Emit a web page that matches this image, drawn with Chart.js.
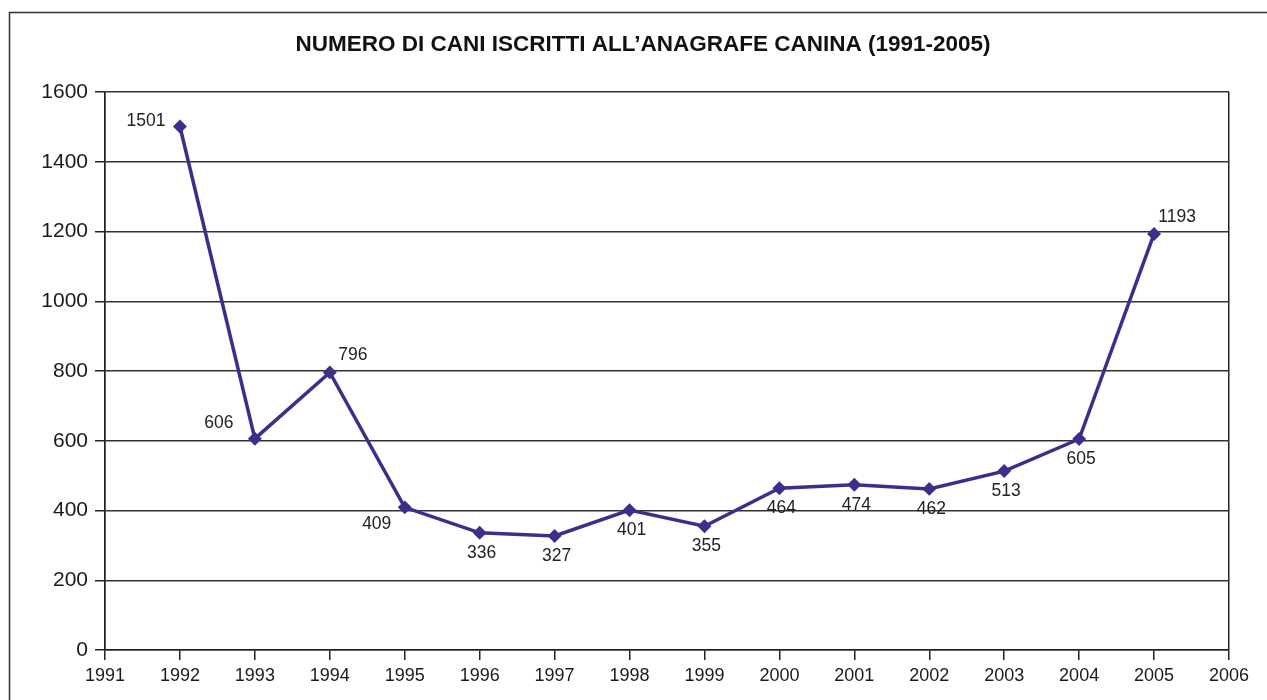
<!DOCTYPE html>
<html>
<head>
<meta charset="utf-8">
<title>Anagrafe canina</title>
<script src="https://cdn.jsdelivr.net/npm/chart.js@4/dist/chart.umd.min.js"></script>
<style>
  html, body { margin: 0; padding: 0; background: #fff; }
  #wrap { width: 1267px; height: 700px; }
</style>
</head>
<body>
<div id="wrap"><canvas id="cani"></canvas></div>
<script>
const titolo = 'NUMERO DI CANI ISCRITTI ALL’ANAGRAFE CANINA (1991-2005)';
const anni = [1992, 1993, 1994, 1995, 1996, 1997, 1998, 1999, 2000, 2001, 2002, 2003, 2004, 2005];
const iscritti = [1501, 606, 796, 409, 336, 327, 401, 355, 464, 474, 462, 513, 605, 1193];
// where each value label sits around its point
const posEtichette = ['left', 'upleft', 'upright', 'downleft', 'below', 'below', 'below',
  'below', 'below', 'below', 'below', 'below', 'below', 'upright'];

const scostamenti = {
  left: [-34, -5],
  upleft: [-36, -15],
  upright: [23, -17],
  downleft: [-28, 17],
  below: [2, 20]
};

// outer frame and the title, centred on the page
const cornice = {
  id: 'cornice',
  beforeDraw(chart) {
    const c = chart.ctx;
    c.save();
    c.fillStyle = '#fff';
    c.fillRect(0, 0, chart.width, chart.height);
    c.strokeStyle = '#333';
    c.lineWidth = 1.5;
    c.strokeRect(9.5, 12.5, chart.width + 20, chart.height + 20);
    c.font = 'bold 22.5px "Liberation Sans Narrow", "Liberation Sans", Arial, sans-serif';
    c.fillStyle = '#111';
    c.textAlign = 'center';
    c.textBaseline = 'middle';
    c.fillText(titolo, 643, 45);
    c.restore();
  }
};

const etichette = {
  id: 'etichette',
  afterDatasetsDraw(chart) {
    const c = chart.ctx;
    const meta = chart.getDatasetMeta(0);
    c.save();
    c.font = '17.5px "Liberation Sans", Arial, sans-serif';
    c.fillStyle = '#222';
    c.textAlign = 'center';
    c.textBaseline = 'middle';
    meta.data.forEach((pt, i) => {
      const d = scostamenti[posEtichette[i]];
      c.fillText(String(iscritti[i]), pt.x + d[0], pt.y + d[1]);
    });
    c.restore();
  }
};

const ctx = document.getElementById('cani');

new Chart(ctx, {
  type: 'line',
  data: {
    datasets: [{
      label: 'Cani iscritti',
      data: anni.map((a, i) => ({ x: a, y: iscritti[i] })),
      borderColor: '#3c2f8c',
      backgroundColor: '#3c2f8c',
      borderWidth: 3.5,
      pointStyle: 'rectRot',
      pointRadius: 4.5,
      tension: 0
    }]
  },
  options: {
    responsive: true,
    maintainAspectRatio: false,
    animation: false,
    layout: { padding: { top: 92, left: 0, right: 38, bottom: 0 } },
    plugins: {
      legend: { display: false },
      tooltip: { enabled: false },
      title: { display: false }
    },
    scales: {
      x: {
        type: 'linear',
        min: 1991,
        max: 2006,
        afterFit(s) { s.height = 50; },
        ticks: {
          stepSize: 1,
          autoSkip: false,
          maxRotation: 0,
          padding: 5,
          color: '#1a1a1a',
          font: { family: '"Liberation Sans", Arial, sans-serif', size: 18 },
          callback: v => String(v)
        },
        grid: {
          drawOnChartArea: true,
          tickLength: 10,
          lineWidth: 1.5,
          tickColor: '#222',
          color: c => (c.index === 0 || c.tick.value === 2006) ? '#222' : 'rgba(0,0,0,0)'
        },
        border: { color: '#222', width: 1.5 }
      },
      y: {
        min: 0,
        max: 1600,
        afterFit(s) { s.width = 105; },
        ticks: {
          stepSize: 200,
          padding: 7,
          color: '#1a1a1a',
          font: { family: '"Liberation Sans", Arial, sans-serif', size: 21 },
          callback: v => String(v)
        },
        grid: { color: '#333', lineWidth: 1.5, tickLength: 10, tickColor: '#222' },
        border: { color: '#222', width: 1.5 }
      }
    }
  },
  plugins: [cornice, etichette]
});
</script>
</body>
</html>
